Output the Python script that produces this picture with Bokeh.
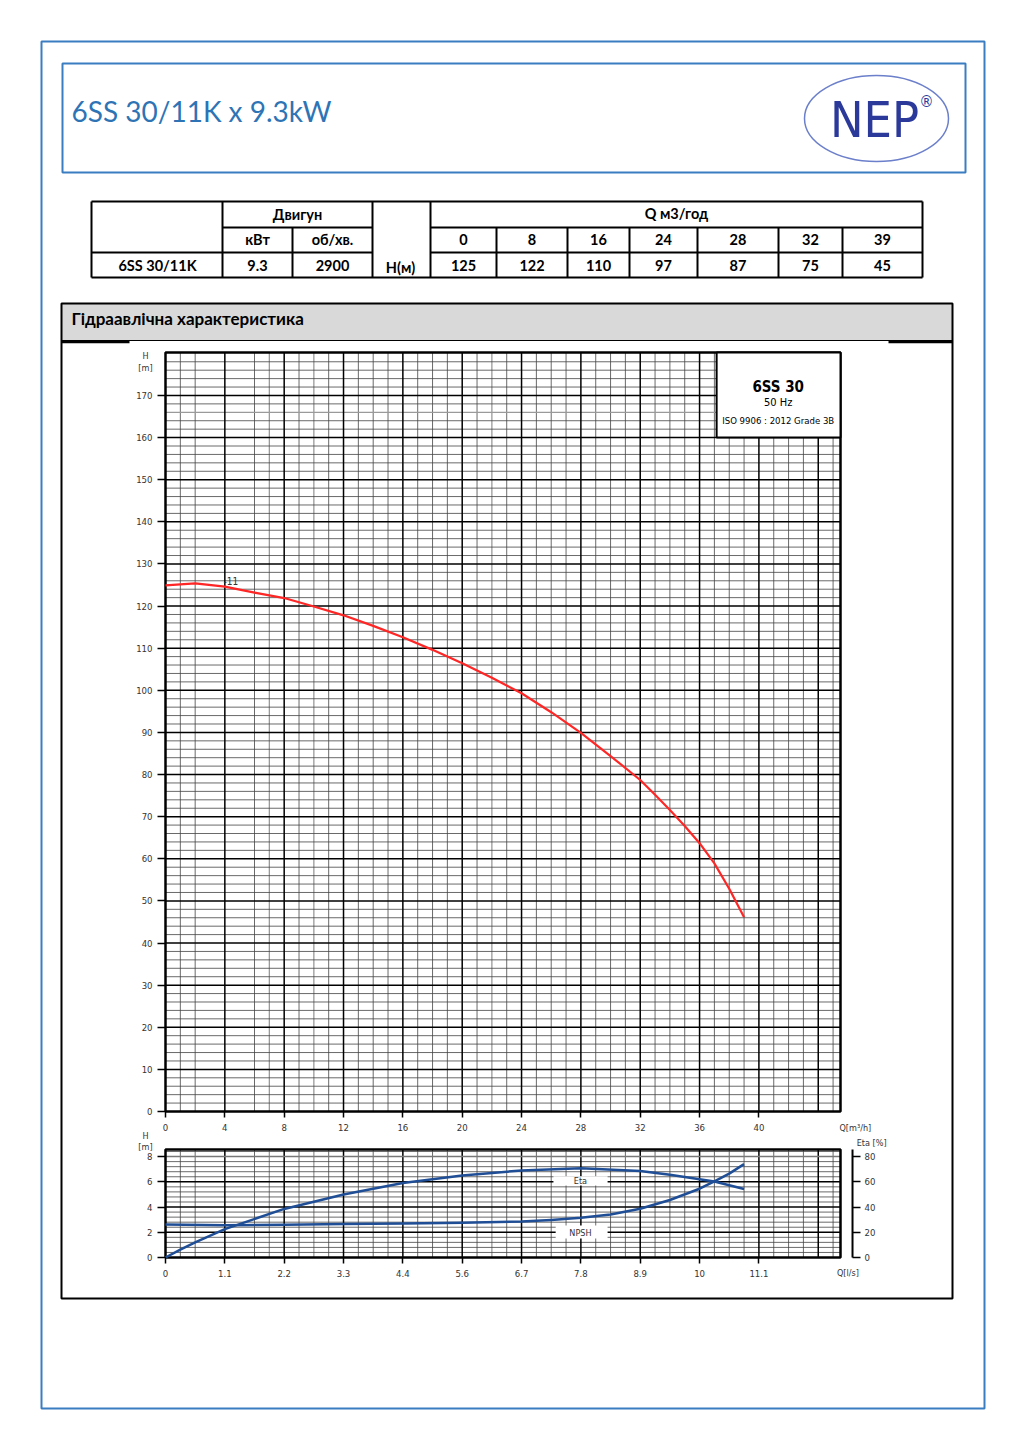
from bokeh.plotting import figure
from bokeh.models import Range1d, FixedTicker, LinearAxis
from bokeh.embed import file_html
from bokeh.resources import INLINE
from bokeh.core.properties import value

# ---------------- data ----------------
title_text = "6SS 30/11K x 9.3kW"
section_title = "Гідраавлічна характеристика"
model_name = "6SS 30/11K"
motor_kw = "9.3"
motor_rpm = "2900"
q_table = [0, 8, 16, 24, 28, 32, 39]
h_table = [125, 122, 110, 97, 87, 75, 45]

# H(Q) curve, Q in m3/h, H in m
q_curve = [0, 2, 4, 6, 8, 10, 12, 14, 16, 18, 20, 22, 24, 26, 28, 30, 32, 33, 34,
           35, 36, 37, 38, 39]
h_curve = [124.9, 125.4, 124.6, 123.2, 121.9, 119.9, 117.8, 115.3, 112.6, 109.6,
           106.4, 103.0, 99.3, 94.8, 89.9, 84.4, 78.7, 75.2, 71.6, 67.8, 63.7, 58.9,
           52.9, 46.1]

# efficiency (%) and NPSH (m) vs Q (m3/h)
q_eta = [0, 1, 2, 4, 8, 12, 16, 20, 24, 28, 32, 34, 36, 37, 38, 39]
eta = [0, 6.3, 12, 22.5, 38.5, 50, 59, 65, 69, 70.8, 68.6, 65.5, 62, 60.2, 57.3, 54.3]
q_npsh = [0, 4, 8, 12, 16, 20, 24, 26, 28, 30, 32, 34, 36, 37, 38, 39]
npsh = [2.62, 2.56, 2.6, 2.65, 2.7, 2.75, 2.86, 2.98, 3.15, 3.41, 3.86, 4.56, 5.45,
        6.03, 6.65, 7.4]

h_ticks = list(range(0, 180, 10))
q_ticks = list(range(0, 44, 4))
q_ls_labels = ["0", "1.1", "2.2", "3.3", "4.4", "5.6", "6.7", "7.8", "8.9", "10", "11.1"]
npsh_ticks = [0, 2, 4, 6, 8]
eta_ticks = [0, 20, 40, 60, 80]

legend_lines = ["6SS 30", "50 Hz", "ISO 9906 : 2012 Grade 3B"]
curve_label = "-11"

# ---------------- style / geometry ----------------
BLUE = "#3a7dc0"
COND = "'Liberation Sans Narrow', 'DejaVu Sans Condensed', sans-serif"
CAL = "Lato, 'Open Sans', sans-serif"
TICKC = "#333333"
W, H = 1026, 1418

QMAX, HMAX, NMAX = 45.5, 180.2, 8.56
MX0, MX1 = 165, 840          # pixel columns of Q = 0 and Q = QMAX
MY0, MYT = 1111, 352         # main chart: pixel rows of H = 0 and H = HMAX
LY0, LYT = 1257, 1149        # lower chart: pixel rows of 0 and NMAX
ETA_AXIS_Q = 46.31           # Q position of the detached efficiency axis

kx = (MX1 - MX0) / QMAX
kh = (MY0 - MYT) / HMAX
kl = (LY0 - LYT) / NMAX

p = figure(width=W, height=H, x_range=Range1d(0, W), y_range=Range1d(H, 0),
           output_backend="svg", toolbar_location=None, x_axis_type=None,
           y_axis_type=None, min_border=0, outline_line_color=None,
           background_fill_color="white", border_fill_color="white")
p.grid.visible = False
p.extra_x_ranges = {"q": Range1d(-MX0 / kx, (W - MX0) / kx)}
p.extra_y_ranges = {
    "hm": Range1d((MY0 - H) / kh, MY0 / kh),
    "hl": Range1d((LY0 - H) / kl, LY0 / kl),
    "eta": Range1d((LY0 - H) / kl * 10, LY0 / kl * 10),
}
M = dict(x_range_name="q", y_range_name="hm")
L = dict(x_range_name="q", y_range_name="hl")


def segs(lst, color, width, **kw):
    p.segment(x0=[s[0] for s in lst], y0=[s[1] for s in lst],
              x1=[s[2] for s in lst], y1=[s[3] for s in lst],
              line_color=color, line_width=width, **kw)


def txt(x, y, t, font=COND, size="9px", align="center", bold=False, color=TICKC, **kw):
    p.text(x=[x], y=[y], text=[t], text_font=value(font), text_font_size=size,
           text_align=align, text_baseline="middle", text_color=color,
           text_font_style="bold" if bold else "normal", **kw)


# ---------------- page decorations ----------------
p.quad(left=[41], right=[984], top=[41], bottom=[1408], fill_color=None,
       line_color=BLUE, line_width=2)
p.quad(left=[62], right=[965], top=[63], bottom=[172], fill_color=None,
       line_color=BLUE, line_width=2)
txt(71, 110, title_text, font=CAL, size="28px", align="left", color="#2e74b5")
p.ellipse(x=[876], y=[118], width=[144], height=[86], fill_color=None,
          line_color="#6b7fca", line_width=1.5)
txt(874, 119, "NEP", size="50px", color="#2b3a9a")
txt(926, 101, "®", size="16px", color="#2b3a9a")

# table
col_edges = [430, 496, 567, 629, 697, 778, 842, 922]
tl = [(91, 201, 922, 201), (222, 227, 372, 227), (430, 227, 922, 227),
      (91, 252, 372, 252), (430, 252, 922, 252), (91, 277, 922, 277),
      (91, 201, 91, 277), (222, 201, 222, 277), (292, 227, 292, 277),
      (372, 201, 372, 277), (430, 201, 430, 277), (922, 201, 922, 277)]
tl += [(x, 227, x, 277) for x in col_edges[1:-1]]
segs(tl, "black", 2)
mids = [(col_edges[i] + col_edges[i + 1]) / 2 for i in range(len(q_table))]
tx = [297, 257, 332, 157, 257, 332, 400, 676] + mids + mids
ty = [214, 239, 239, 265, 265, 265, 267, 213] + [239] * len(mids) + [265] * len(mids)
tt = ["Двигун", "кВт", "об/хв.", model_name, motor_kw, motor_rpm, "H(м)", "Q м3/год"] + \
     [str(v) for v in q_table] + [str(v) for v in h_table]
p.text(x=tx, y=ty, text=tt, text_font=value(CAL), text_font_size="14.5px",
       text_font_style="bold", text_color="black", text_baseline="middle",
       text_align="center")

# section box
p.quad(left=[61], right=[952], top=[303], bottom=[340], fill_color="#d9d9d9",
       line_color="black", line_width=1)
txt(71, 318, section_title, font=CAL, size="17px", align="left", bold=True,
    color="black")
segs([(61, 341.5, 129, 341.5), (888, 341.5, 952, 341.5)], "black", 2.5)
p.quad(left=[61], right=[952], top=[303], bottom=[1298], fill_color=None,
       line_color="black", line_width=2)


def style_axis(ax, tick_out, standoff):
    ax.axis_line_color = None
    ax.major_tick_line_color = "black"
    ax.major_tick_line_width = 1.5
    ax.major_tick_in = 0
    ax.major_tick_out = tick_out
    ax.minor_tick_line_color = None
    ax.major_label_standoff = standoff
    ax.major_label_text_font = COND
    ax.major_label_text_font_size = "9.5px"
    ax.major_label_text_color = TICKC


def vlines(xs, top_y, color, width, rng):
    p.segment(x0=xs, y0=[0] * len(xs), x1=xs, y1=[top_y] * len(xs),
              line_color=color, line_width=width, **rng)


def hlines(ys, right_x, color, width, rng):
    p.segment(x0=[0] * len(ys), y0=ys, x1=[right_x] * len(ys), y1=ys,
              line_color=color, line_width=width, **rng)


minor_v = [v for v in range(1, 46) if v % 4 and v not in (3, 5, 7, 10, 22)]
gray_v = [7, 10, 22]
major_v = list(range(4, 45, 4))

# ---------------- main chart ----------------
minor_h = [v for v in range(2, 180, 2) if v % 10 and v != 166]
major_h = list(range(10, 180, 10))
vlines(minor_v, HMAX, "#444444", 0.8, M)
vlines(gray_v, HMAX, "#9a9a9a", 1.3, M)
hlines(minor_h, QMAX, "#444444", 0.8, M)
hlines([166], QMAX, "#9a9a9a", 1.3, M)
vlines(major_v, HMAX, "black", 1.5, M)
hlines(major_h, QMAX, "black", 1.5, M)
p.quad(left=[0], right=[QMAX], bottom=[0], top=[HMAX], fill_color=None,
       line_color="black", line_width=2.5, **M)

p.line(q_curve, h_curve, line_color="#ff2626", line_width=2.2, line_join="round", **M)
txt(4.4, 126.0, curve_label, size="10px", **M)

p.quad(left=[37.15], right=[QMAX], top=[HMAX], bottom=[160], fill_color="white",
       line_color="black", line_width=2, **M)
txt(41.3, 171.9, legend_lines[0], size="15px", bold=True, color="black", **M)
txt(41.3, 168.3, legend_lines[1], size="11px", color="black", **M)
txt(41.3, 164.0, legend_lines[2], size="9.5px", color="black", **M)

ax = LinearAxis(x_range_name="q", y_range_name="hm", fixed_location=0,
                ticker=FixedTicker(ticks=q_ticks))
style_axis(ax, 6, 6)
p.add_layout(ax, "below")
ay = LinearAxis(x_range_name="q", y_range_name="hm", fixed_location=0,
                ticker=FixedTicker(ticks=h_ticks))
style_axis(ay, 8, 5)
p.add_layout(ay, "left")
txt(-1.35, 179.4, "H", **M)
txt(-1.35, 176.6, "[m]", **M)
txt(46.5, -4.0, "Q[m³/h]", **M)

# ---------------- lower chart ----------------
minor_hb = [round(0.4 * k, 1) for k in range(1, 22) if k % 5]
vlines(minor_v, NMAX, "#444444", 0.8, L)
vlines(gray_v, NMAX, "#9a9a9a", 1.3, L)
hlines(minor_hb, QMAX, "#444444", 0.8, L)
vlines(major_v, NMAX, "black", 1.5, L)
hlines([2, 4, 6], QMAX, "black", 1.5, L)
hlines([8], QMAX, "#777777", 1.5, L)
p.quad(left=[0], right=[QMAX], bottom=[0], top=[NMAX], fill_color=None,
       line_color="black", line_width=2.5, **L)
segs([(ETA_AXIS_Q, 0, ETA_AXIS_Q, NMAX)], "black", 2, **L)

p.quad(left=[26.15, 26.3], right=[29.8, 29.8], bottom=[5.71, 1.51], top=[6.43, 2.54],
       fill_color="white", line_color=None, **L)
txt(27.97, 6.1, "Eta", **L)
txt(27.97, 1.98, "NPSH", **L)

p.line(q_npsh, npsh, line_color="#1f4e96", line_width=2.5, line_join="round", **L)
p.line(q_eta, eta, line_color="#1f4e96", line_width=2.5, line_join="round",
       x_range_name="q", y_range_name="eta")

bx = LinearAxis(x_range_name="q", y_range_name="hl", fixed_location=0,
                ticker=FixedTicker(ticks=q_ticks))
style_axis(bx, 6, 6)
bx.major_label_overrides = {q: s for q, s in zip(q_ticks, q_ls_labels)}
p.add_layout(bx, "below")
by = LinearAxis(x_range_name="q", y_range_name="hl", fixed_location=0,
                ticker=FixedTicker(ticks=npsh_ticks))
style_axis(by, 8, 5)
p.add_layout(by, "left")
ey = LinearAxis(x_range_name="q", y_range_name="eta", fixed_location=ETA_AXIS_Q,
                ticker=FixedTicker(ticks=eta_ticks))
style_axis(ey, 8, 4)
p.add_layout(ey, "right")
txt(-1.35, 9.6, "H", **L)
txt(-1.35, 8.73, "[m]", **L)
txt(47.6, 9.05, "Eta [%]", **L)
txt(46.0, -1.19, "Q[l/s]", **L)

open("out.html", "w").write(file_html(p, INLINE))
